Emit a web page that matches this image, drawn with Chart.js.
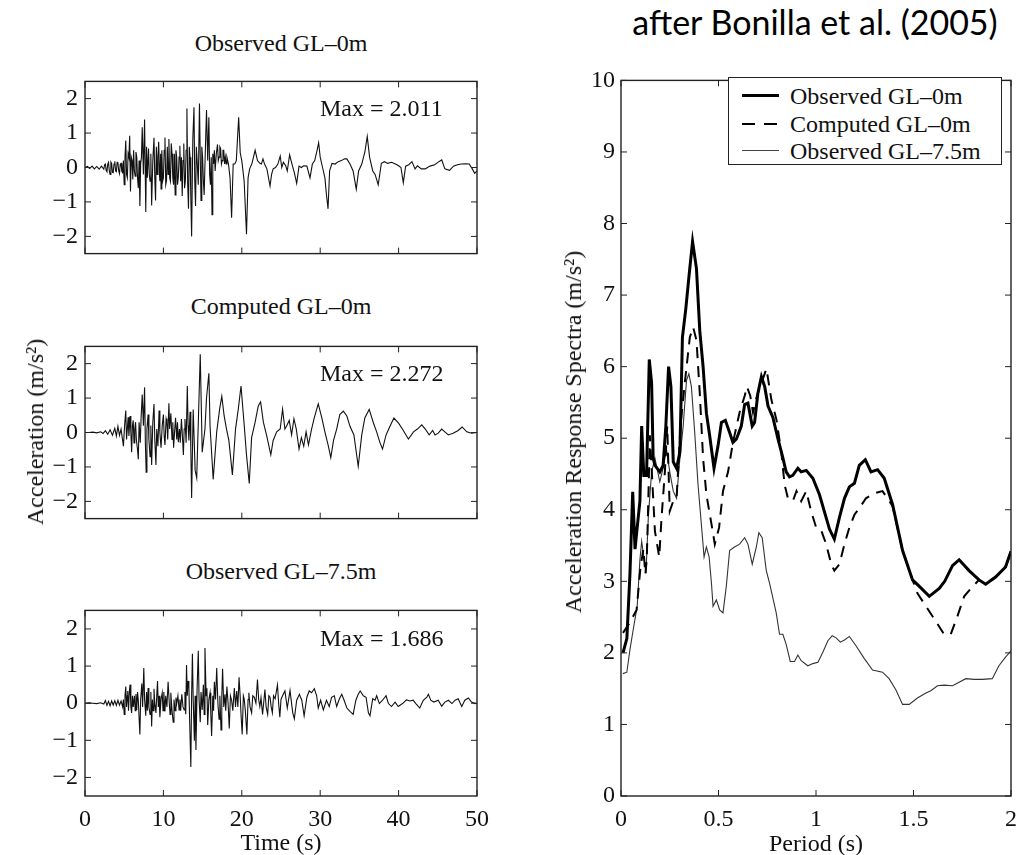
<!DOCTYPE html>
<html>
<head>
<meta charset="utf-8">
<script src="https://cdn.jsdelivr.net/npm/chart.js@4.4.1/dist/chart.umd.min.js"></script>
<style>
  body { margin: 0; background: #fff; width: 1026px; height: 855px; position: relative; overflow: hidden;
         font-family: 'Liberation Serif', serif; color: #111; }
  canvas { position: absolute; }
  .lbl { position: absolute; font-size: 24px; line-height: 1; white-space: nowrap; transform: translate(-50%, -50%); }
  .left { transform: translate(0, -50%); }
  .rot { transform: translate(-50%, -50%) rotate(-90deg); }
  .note { position: absolute; font-family: Lato, 'Open Sans', sans-serif; font-size: 34px; line-height: 1;
          white-space: nowrap; transform: translate(-50%, -50%); color: #000; }
  #legend { position: absolute; left: 728px; top: 77px; width: 272px; height: 86px; border: 1.3px solid #222;
            background: #fff; z-index: 5; }
  #legend .row { position: absolute; left: 0; height: 24px; width: 100%; }
  #legend .row span { position: absolute; left: 61px; top: 0; font-size: 24px; line-height: 24px; }
  #legend .smp { position: absolute; left: 13px; width: 37px; top: 11px; }
</style>
</head>
<body>
<canvas id="c1" width="500" height="215" style="left:0;top:60px"></canvas>
<canvas id="c2" width="500" height="215" style="left:0;top:325px"></canvas>
<canvas id="c3" width="500" height="265" style="left:0;top:589px"></canvas>
<canvas id="c4" width="486" height="794" style="left:540px;top:60px"></canvas>

<div class="lbl" style="left:281px;top:43px">Observed GL–0m</div>
<div class="lbl" style="left:281px;top:306px">Computed GL–0m</div>
<div class="lbl" style="left:281px;top:571px">Observed GL–7.5m</div>
<div class="lbl left" style="left:320px;top:108px">Max = 2.011</div>
<div class="lbl left" style="left:320px;top:373px">Max = 2.272</div>
<div class="lbl left" style="left:320px;top:638px">Max = 1.686</div>
<div class="lbl" style="left:281px;top:842px">Time (s)</div>
<div class="lbl rot" style="left:35px;top:432px">Acceleration (m/s²)</div>

<div class="note" style="left:815px;top:22px">after Bonilla et al. (2005)</div>
<div class="lbl" style="left:816px;top:843px">Period (s)</div>
<div class="lbl rot" style="left:573px;top:432px">Acceleration Response Spectra (m/s²)</div>

<div id="legend">
  <div class="row" style="top:6px"><div class="smp" style="border-top:3px solid #000;top:10px"></div><span>Observed GL–0m</span></div>
  <div class="row" style="top:34px"><div class="smp" style="height:2px;background:repeating-linear-gradient(90deg,#000 0 13px,transparent 13px 22px)"></div><span>Computed GL–0m</span></div>
  <div class="row" style="top:61px"><div class="smp" style="border-top:1px solid #444"></div><span>Observed GL–7.5m</span></div>
</div>

<script>
// --- time histories: [time (s), acceleration (m/s2)] --- //
const observedGL0 = [
  [0,0],[0.3,0.03],[0.6,-0.03],[0.9,0.04],[1.2,-0.04],[1.5,0.03],[1.8,-0.05],[2.1,0.04],[2.4,-0.05],[2.5,0.08],
  [2.6,0.1],[2.7,-0.08],[2.8,-0.12],[2.9,0.1],[3.0,0.15],[3.1,-0.1],[3.2,-0.2],[3.3,0.16],[3.4,0.12],[3.5,-0.14],
  [3.6,-0.15],[3.7,0.1],[3.8,0.18],[3.9,-0.1],[4.0,-0.12],[4.1,0.15],[4.2,0.14],[4.3,-0.1],[4.4,-0.18],[4.5,0.1],
  [4.6,0.12],[4.7,-0.12],[4.8,-0.15],[4.9,0.2],[5.0,-0.5],[5.1,0.3],[5.2,0.78],[5.3,-0.2],[5.4,-0.3],[5.5,0.4],
  [5.6,0.3],[5.7,0.92],[5.8,-0.7],[5.9,0.3],[6.0,0.2],[6.1,-0.35],[6.2,0.5],[6.3,-0.1],[6.4,-0.25],[6.5,0.45],
  [6.6,0.3],[6.7,-0.3],[6.8,-0.6],[6.9,0.2],[7.0,-1.12],[7.1,0.1],[7.2,0.3],[7.3,1.17],[7.45,-0.2],[7.6,1.39],
  [7.75,-1.29],[7.85,0.6],[7.95,-0.3],[8.1,0.55],[8.2,-0.2],[8.3,-0.4],[8.4,0.4],[8.5,-1.1],[8.65,0.2],[8.8,0.86],
  [8.9,-0.3],[9.0,-0.96],[9.1,0.6],[9.2,-0.2],[9.3,0.3],[9.4,0.75],[9.5,-0.2],[9.55,-0.4],[9.65,0.4],[9.7,-0.62],
  [9.8,0.5],[9.9,-0.4],[10.0,-0.3],[10.1,0.5],[10.2,0.87],[10.3,-0.5],[10.4,-0.38],[10.5,0.6],[10.6,-0.2],[10.7,0.83],
  [10.8,-0.3],[10.9,-0.4],[11.0,0.7],[11.1,0.4],[11.2,-0.3],[11.3,-0.5],[11.4,0.4],[11.5,-0.8],[11.6,0.5],[11.7,0.3],
  [11.8,-0.5],[11.9,-0.3],[12.0,0.3],[12.1,0.63],[12.2,-0.4],[12.3,0.3],[12.4,-0.83],[12.5,0.2],[12.6,0.7],[12.7,-0.6],
  [12.8,-0.4],[12.9,0.5],[13.0,1.71],[13.1,-0.5],[13.2,-1.2],[13.3,0.6],[13.4,0.3],[13.5,-0.9],[13.6,-2.0],[13.75,0.8],
  [13.9,1.75],[14.0,-0.4],[14.1,-1.12],[14.2,0.6],[14.3,0.2],[14.45,-0.5],[14.6,1.86],[14.7,0.3],[14.8,-0.96],[14.9,0.6],
  [15.0,0.3],[15.1,-0.4],[15.2,-0.8],[15.35,0.5],[15.5,1.67],[15.65,0.2],[15.8,1.46],[15.9,-0.2],[16.0,-0.5],[16.1,0.3],
  [16.2,-1.37],[16.3,0.4],[16.4,0.1],[16.5,0.5],[16.6,-0.1],[16.75,0.4],[16.9,0.67],[17.0,0.2],[17.1,0.3],[17.2,0.6],
  [17.3,0.55],[17.4,0.1],[17.5,0.2],[17.6,0.5],[17.7,0.5],[17.8,0.1],[17.9,0.3],[18.0,0.1],[18.1,0.3],[18.3,0.1],
  [18.5,-0.3],[18.7,-1.46],[18.9,0.1],[19.1,0.1],[19.3,0.2],[19.6,1.46],[19.8,0.42],[20.0,0.2],[20.3,-0.4],[20.6,-1.94],
  [20.8,-0.3],[21.0,-0.04],[21.3,0.12],[21.7,0.5],[22.0,0.2],[22.3,0.12],[22.5,0.1],[22.7,0.25],[22.9,0.1],[23.2,-0.04],
  [23.6,-0.54],[23.8,-0.2],[24.0,-0.04],[24.3,0.0],[24.6,0.1],[24.9,0.33],[25.1,0.0],[25.3,0.15],[25.6,0.05],[25.8,-0.1],
  [26.1,0.37],[26.4,0.1],[26.7,-0.15],[27.0,-0.46],[27.3,0.04],[27.6,0.0],[27.9,0.05],[28.3,0.04],[28.7,-0.3],[29.0,0.1],
  [29.3,0.2],[29.6,0.5],[29.8,0.72],[30.0,0.3],[30.3,0.0],[30.6,-0.3],[30.8,-0.8],[31.0,-1.2],[31.2,-0.1],[31.5,0.12],
  [31.9,0.1],[32.3,0.17],[32.7,0.2],[33.1,0.25],[33.4,0.25],[33.8,0.1],[34.2,-0.1],[34.6,-0.63],[34.9,-0.1],[35.3,0.1],
  [35.7,0.45],[36.0,0.9],[36.3,0.3],[36.7,-0.1],[37.0,-0.2],[37.4,-0.5],[37.8,0.12],[38.2,0.17],[38.6,0.12],[39.1,0.15],
  [39.6,0.1],[40.0,0.05],[40.3,0.0],[40.6,-0.44],[40.9,0.04],[41.3,0.08],[41.7,0.17],[42.1,-0.04],[42.4,0.05],[42.9,-0.04],
  [43.4,-0.04],[44.0,0.04],[44.6,0.08],[45.0,0.15],[45.5,0.22],[45.9,-0.04],[46.5,-0.08],[47.0,0.04],[47.5,0.08],[48.0,0.1],
  [48.5,0.11],[49.0,0.1],[49.4,-0.04],[49.7,-0.17],[50.0,-0.1]
];

const computedGL0 = [
  [0,0],[0.5,0],[1,0.01],[1.5,-0.01],[2.0,0.02],[2.3,-0.03],[2.6,0.05],[2.9,-0.05],[3.2,0.08],[3.5,-0.08],
  [3.8,0.12],[4.0,-0.1],[4.2,0.18],[4.4,-0.08],[4.6,0.1],[4.75,-0.15],[4.9,-0.4],[5.05,0.2],[5.2,0.64],[5.3,-0.2],
  [5.4,0.1],[5.5,0.44],[5.6,-0.1],[5.75,0.48],[5.85,0.0],[5.95,-0.57],[6.05,0.2],[6.15,0.35],[6.25,-0.3],[6.35,0.1],
  [6.45,0.3],[6.55,-0.2],[6.7,-0.5],[6.8,-0.78],[6.9,0.3],[7.05,-0.3],[7.15,0.4],[7.3,1.1],[7.45,0.2],[7.6,1.31],
  [7.7,-0.3],[7.8,-1.15],[7.9,0.1],[8.05,0.52],[8.15,-0.2],[8.3,-0.7],[8.4,0.2],[8.5,-0.94],[8.65,0.3],[8.8,0.83],
  [8.9,-0.2],[9.05,-0.94],[9.15,0.1],[9.3,-0.4],[9.45,0.64],[9.55,0.0],[9.7,-0.44],[9.85,0.2],[10.0,0.52],[10.1,-0.1],
  [10.2,-0.36],[10.35,0.4],[10.45,0.3],[10.55,-0.2],[10.7,0.85],[10.8,0.1],[10.95,0.56],[11.1,-0.2],[11.2,0.3],[11.3,-0.44],
  [11.45,0.1],[11.55,0.43],[11.7,-0.2],[11.8,0.3],[11.9,-0.28],[12.05,0.1],[12.15,-0.3],[12.3,0.39],[12.4,0.0],[12.55,-0.65],
  [12.65,0.1],[12.75,0.39],[12.9,-0.3],[13.05,1.35],[13.15,0.2],[13.25,-0.23],[13.4,0.6],[13.5,-0.5],[13.6,-1.9],[13.8,0.67],
  [14.05,-1.1],[14.25,-1.32],[14.7,2.27],[14.95,-0.57],[15.3,0.1],[15.5,1.0],[15.8,1.72],[15.95,0.18],[16.35,-1.36],[16.8,0.02],
  [17.2,0.72],[17.45,1.05],[17.75,0.48],[18.05,0.1],[18.35,-0.23],[18.8,-1.23],[19.2,0.1],[19.55,0.68],[19.9,1.35],[20.3,0.23],
  [20.6,-0.65],[20.95,-1.48],[21.25,-0.15],[21.7,0.3],[22.1,0.77],[22.4,0.89],[22.75,0.3],[23.15,-0.07],[23.7,-0.65],[24.0,-0.23],
  [24.45,0.02],[24.9,0.1],[25.2,0.68],[25.5,0.1],[25.7,0.18],[26.05,0.35],[26.35,-0.07],[26.65,0.4],[26.95,0.1],[27.3,-0.48],
  [27.6,-0.15],[27.9,-0.4],[28.2,0.02],[28.5,-0.36],[28.9,0.1],[29.25,0.43],[29.75,0.83],[30.2,0.43],[30.6,0.02],[31.05,-0.4],
  [31.35,-0.73],[31.7,-0.23],[32.1,0.1],[32.5,0.52],[32.95,0.62],[33.4,0.48],[33.8,0.18],[34.3,-0.07],[34.85,-0.98],[35.3,-0.07],
  [35.7,0.43],[36.25,0.67],[36.8,0.27],[37.2,0.02],[37.6,-0.28],[37.95,-0.48],[38.4,-0.07],[38.9,0.18],[39.4,0.42],[40.0,0.27],
  [40.6,0.06],[41.25,-0.19],[41.9,0.02],[42.4,0.1],[42.95,0.22],[43.4,0.1],[43.9,-0.07],[44.35,0.06],[44.65,-0.07],[45.05,-0.02],
  [45.5,0.1],[45.9,0.02],[46.35,-0.07],[46.95,-0.02],[47.6,0.06],[48.1,0.16],[48.7,0.02],[49.3,-0.02],[50.0,0.0]
];

const observedGL75 = [
  [0,0],[0.5,0.01],[1.0,0],[1.5,-0.01],[2.0,0.01],[2.4,-0.02],[2.6,0.07],[2.8,-0.06],[3.0,0.05],[3.2,-0.07],
  [3.4,0.06],[3.6,-0.05],[3.8,0.07],[4.0,-0.06],[4.2,0.08],[4.4,-0.05],[4.6,0.06],[4.8,-0.1],[4.9,0.1],[5.0,-0.3],
  [5.1,0.2],[5.2,0.45],[5.3,-0.1],[5.4,0.2],[5.45,0.33],[5.55,-0.2],[5.65,0.3],[5.75,0.5],[5.85,-0.1],[5.95,-0.26],
  [6.05,0.2],[6.15,-0.1],[6.3,0.2],[6.4,-0.2],[6.5,0.25],[6.6,-0.18],[6.7,0.3],[6.8,0.08],[6.9,-0.4],[7.0,-0.84],
  [7.1,0.1],[7.25,0.53],[7.35,-0.1],[7.5,0.95],[7.6,0.1],[7.75,-0.34],[7.85,0.3],[7.95,-0.2],[8.05,0.41],[8.15,-0.1],
  [8.3,-0.3],[8.4,0.3],[8.5,-0.63],[8.6,0.1],[8.7,-0.2],[8.8,0.39],[8.9,0.0],[9.05,-0.26],[9.15,0.2],[9.25,0.6],
  [9.35,-0.1],[9.45,0.2],[9.55,-0.38],[9.7,0.1],[9.85,0.28],[9.95,-0.2],[10.05,0.3],[10.2,-0.22],[10.3,0.2],[10.45,-0.1],
  [10.6,0.58],[10.75,0.0],[10.85,-0.3],[10.95,0.28],[11.1,-0.2],[11.25,-0.51],[11.35,0.1],[11.5,-0.2],[11.6,0.15],[11.7,-0.01],
  [11.85,0.2],[12.0,-0.18],[12.1,0.1],[12.2,-0.2],[12.35,0.24],[12.5,-0.1],[12.65,-0.18],[12.75,0.3],[12.85,-0.3],[12.95,1.03],
  [13.05,0.2],[13.15,0.6],[13.25,0.45],[13.35,-0.5],[13.5,-1.72],[13.6,0.2],[13.7,1.33],[13.8,0.1],[13.95,-1.01],[14.05,0.2],
  [14.15,-1.26],[14.3,0.4],[14.45,1.41],[14.55,0.1],[14.7,-0.51],[14.8,0.3],[14.95,-0.18],[15.1,0.5],[15.2,-0.3],[15.3,1.49],
  [15.45,0.2],[15.55,0.4],[15.65,-0.59],[15.8,0.1],[15.95,0.28],[16.05,-0.3],[16.15,-0.88],[16.3,0.2],[16.4,-0.2],[16.5,0.58],
  [16.65,0.1],[16.8,0.95],[16.95,0.0],[17.1,-0.43],[17.2,0.2],[17.35,-0.72],[17.45,0.2],[17.55,0.93],[17.7,-0.1],[17.85,0.24],
  [17.95,-0.2],[18.1,0.45],[18.25,0.0],[18.4,-0.68],[18.55,0.2],[18.7,0.08],[18.85,-0.2],[19.05,0.41],[19.2,-0.1],[19.35,0.33],
  [19.5,-0.1],[19.65,0.7],[19.8,0.16],[19.9,-0.3],[20.05,-0.84],[20.2,0.2],[20.3,0.12],[20.45,-0.2],[20.65,-0.84],[20.8,0.1],
  [20.9,0.28],[21.05,-0.1],[21.25,-0.26],[21.4,0.2],[21.6,0.16],[21.8,0.0],[22.0,0.64],[22.15,0.1],[22.3,-0.09],[22.45,0.15],
  [22.65,-0.3],[22.95,0.37],[23.1,-0.1],[23.3,-0.3],[23.45,0.2],[23.6,0.16],[23.75,-0.1],[23.9,-0.26],[24.05,0.2],[24.25,0.12],
  [24.55,0.49],[24.7,0.0],[24.85,-0.38],[25.0,0.1],[25.2,0.2],[25.5,0.33],[25.8,-0.13],[26.15,0.34],[26.5,-0.26],[26.7,-0.42],
  [27.0,0.08],[27.35,0.24],[27.65,0.08],[27.95,-0.34],[28.3,0.16],[28.6,0.33],[28.9,0.28],[29.25,0.39],[29.55,0.2],[29.75,-0.13],
  [30.05,0.08],[30.4,-0.18],[30.8,0.08],[31.15,-0.09],[31.45,0.16],[31.8,0.2],[32.1,-0.09],[32.45,0.12],[32.75,0.24],[33.05,0.08],
  [33.4,-0.13],[33.8,-0.22],[34.2,-0.3],[34.55,0.08],[34.85,0.24],[35.1,0.33],[35.5,0.2],[35.85,0.16],[36.15,-0.26],[36.35,-0.34],
  [36.7,0.12],[37.0,0.08],[37.2,0.2],[37.55,-0.01],[37.95,0.08],[38.4,0.2],[38.7,-0.01],[39.1,-0.09],[39.55,0.03],[39.95,-0.09],
  [40.5,-0.01],[41.0,0.09],[41.45,0.06],[41.85,0.08],[42.2,-0.01],[42.7,-0.13],[43.15,0.08],[43.6,0.16],[43.8,0.24],[44.1,0.08],
  [44.5,0.03],[45.05,0.08],[45.5,-0.08],[45.9,0.03],[46.35,0.08],[46.8,-0.01],[47.2,0.08],[47.6,0.12],[48.05,-0.09],[48.45,0.08],
  [48.9,0.14],[49.3,0.03],[49.75,-0.01],[50.0,0.0]
];

// --- response spectra: [period (s), Sa (m/s2)] --- //
const spectraObsGL0 = [
  [0.01,2.0],[0.03,2.2],[0.046,3.11],[0.06,4.25],[0.072,3.45],[0.083,3.75],[0.097,4.12],[0.106,5.17],[0.117,4.48],[0.131,4.48],
  [0.145,6.1],[0.157,5.77],[0.165,4.72],[0.174,4.62],[0.199,4.53],[0.216,4.62],[0.23,5.17],[0.244,6.0],[0.256,5.72],[0.268,4.67],
  [0.285,4.58],[0.302,4.8],[0.315,6.41],[0.332,6.8],[0.35,7.3],[0.367,7.75],[0.387,7.37],[0.404,6.5],[0.421,6.0],[0.438,5.35],
  [0.455,5.03],[0.477,4.58],[0.498,4.9],[0.515,5.22],[0.535,5.25],[0.557,5.08],[0.574,4.94],[0.592,4.99],[0.617,5.17],[0.634,5.47],
  [0.651,5.49],[0.673,5.17],[0.685,5.22],[0.702,5.63],[0.72,5.86],[0.737,5.72],[0.754,5.45],[0.779,5.29],[0.805,4.99],[0.827,4.76],
  [0.847,4.53],[0.864,4.46],[0.881,4.48],[0.907,4.58],[0.924,4.53],[0.95,4.55],[0.984,4.44],[1.018,4.21],[1.052,3.89],[1.069,3.73],
  [1.094,3.59],[1.12,3.89],[1.146,4.16],[1.171,4.32],[1.197,4.37],[1.222,4.62],[1.253,4.7],[1.282,4.53],[1.316,4.56],[1.35,4.44],
  [1.393,4.07],[1.444,3.43],[1.495,3.02],[1.53,2.93],[1.581,2.79],[1.632,2.9],[1.66,3.0],[1.7,3.22],[1.734,3.3],[1.785,3.15],
  [1.836,3.02],[1.87,2.96],[1.921,3.06],[1.972,3.2],[2.0,3.42]
];

const spectraCompGL0 = [
  [0.01,2.28],[0.04,2.4],[0.08,2.6],[0.1,3.2],[0.115,3.45],[0.125,3.1],[0.132,3.3],[0.14,4.12],[0.148,5.04],[0.158,4.53],
  [0.174,3.7],[0.196,3.34],[0.208,3.89],[0.225,4.53],[0.237,5.17],[0.25,3.98],[0.268,4.12],[0.285,4.16],[0.305,5.17],[0.327,5.77],
  [0.353,6.41],[0.37,6.55],[0.387,6.37],[0.404,5.63],[0.421,4.72],[0.438,4.21],[0.464,3.8],[0.481,3.52],[0.503,3.75],[0.523,4.26],
  [0.549,4.53],[0.574,4.94],[0.608,5.36],[0.634,5.59],[0.646,5.72],[0.663,5.59],[0.677,5.36],[0.697,5.59],[0.72,5.77],[0.746,5.97],
  [0.771,5.54],[0.797,5.26],[0.822,4.81],[0.839,4.35],[0.856,4.16],[0.881,4.12],[0.9,4.26],[0.924,4.12],[0.95,4.26],[0.975,3.98],
  [1.001,3.75],[1.027,3.71],[1.052,3.52],[1.078,3.24],[1.094,3.15],[1.12,3.24],[1.146,3.52],[1.171,3.75],[1.197,3.93],[1.222,4.02],
  [1.256,4.16],[1.299,4.23],[1.341,4.26],[1.367,4.16],[1.393,4.05],[1.444,3.43],[1.495,3.02],[1.521,2.83],[1.564,2.65],[1.615,2.44],
  [1.657,2.26],[1.691,2.26],[1.725,2.51],[1.76,2.79],[1.794,2.9],[1.836,3.02],[1.87,2.96],[1.921,3.06],[1.972,3.2],[2.0,3.42]
];

const spectraObsGL75 = [
  [0.01,1.71],[0.03,1.73],[0.046,2.05],[0.063,2.33],[0.083,2.65],[0.097,3.3],[0.106,3.56],[0.117,3.34],[0.128,3.11],[0.14,3.89],
  [0.157,4.53],[0.174,4.72],[0.199,4.39],[0.216,4.58],[0.233,4.85],[0.25,4.53],[0.268,4.26],[0.285,4.16],[0.302,4.72],[0.319,5.17],
  [0.336,5.81],[0.348,5.9],[0.361,5.72],[0.378,5.08],[0.395,4.35],[0.412,3.8],[0.426,3.34],[0.438,3.48],[0.452,3.34],[0.464,2.97],
  [0.472,2.65],[0.489,2.74],[0.506,2.6],[0.523,2.56],[0.54,2.93],[0.557,3.43],[0.582,3.48],[0.608,3.52],[0.634,3.61],[0.651,3.52],
  [0.673,3.24],[0.694,3.48],[0.707,3.68],[0.724,3.61],[0.745,3.15],[0.762,2.97],[0.796,2.56],[0.813,2.26],[0.83,2.26],[0.847,2.12],
  [0.868,1.88],[0.89,1.88],[0.907,1.97],[0.924,1.89],[0.958,1.82],[0.984,1.85],[1.01,1.87],[1.035,2.01],[1.061,2.17],[1.083,2.24],
  [1.103,2.21],[1.125,2.15],[1.146,2.18],[1.171,2.23],[1.205,2.1],[1.248,1.92],[1.29,1.76],[1.341,1.73],[1.375,1.64],[1.41,1.48],
  [1.444,1.28],[1.478,1.28],[1.52,1.37],[1.564,1.44],[1.589,1.47],[1.623,1.54],[1.657,1.55],[1.7,1.54],[1.734,1.59],[1.768,1.64],
  [1.811,1.63],[1.853,1.63],[1.904,1.64],[1.938,1.82],[1.972,1.94],[2.0,2.03]
];

// --- axis ticks --- //
const timeTicks = [0, 10, 20, 30, 40, 50];
const accTicks = [-2, -1, 0, 1, 2];
const periodTicks = [0, 0.5, 1, 1.5, 2];
const saTicks = [0, 1, 2, 3, 4, 5, 6, 7, 8, 9, 10];

Chart.defaults.font.family = "'Liberation Serif', serif";
Chart.defaults.font.size = 24;
Chart.defaults.color = '#111';
Chart.defaults.animation = false;

const toXY = (pairs) => pairs.map(p => ({ x: p[0], y: p[1] }));
const fmt = (v) => v < 0 ? '\u2212' + Math.abs(v) : String(v);

// matlab style box with inward ticks on all sides
const frameTicks = {
  id: 'frameTicks',
  afterDraw(chart) {
    const { ctx, chartArea: a, scales } = chart;
    const len = 6;
    ctx.save();
    ctx.strokeStyle = '#222';
    ctx.lineWidth = 1.4;
    ctx.strokeRect(a.left, a.top, a.right - a.left, a.bottom - a.top);
    ctx.lineWidth = 1;
    ctx.beginPath();
    for (const t of scales.x.ticks) {
      const px = scales.x.getPixelForValue(t.value);
      ctx.moveTo(px, a.bottom); ctx.lineTo(px, a.bottom - len);
      ctx.moveTo(px, a.top); ctx.lineTo(px, a.top + len);
    }
    for (const t of scales.y.ticks) {
      const py = scales.y.getPixelForValue(t.value);
      ctx.moveTo(a.left, py); ctx.lineTo(a.left + len, py);
      ctx.moveTo(a.right, py); ctx.lineTo(a.right - len, py);
    }
    ctx.stroke();
    ctx.restore();
  }
};

function timePanel(id, series, showTimeLabels) {
  new Chart(document.getElementById(id), {
    type: 'line',
    data: {
      datasets: [{
        data: toXY(series),
        borderColor: '#111',
        borderWidth: 1.1,
        pointRadius: 0,
        tension: 0
      }]
    },
    options: {
      responsive: false,
      layout: { padding: { top: 7, right: 23, left: 0, bottom: 0 } },
      plugins: { legend: { display: false }, tooltip: { enabled: false } },
      scales: {
        x: {
          type: 'linear', min: 0, max: 50,
          grid: { display: false, drawTicks: false }, border: { display: false },
          afterBuildTicks: s => { s.ticks = timeTicks.map(v => ({ value: v })); },
          afterFit: s => { s.height = showTimeLabels ? 58 : 8; },
          ticks: { display: showTimeLabels, padding: 9, maxRotation: 0, callback: fmt }
        },
        y: {
          type: 'linear', min: -2.5, max: 2.5,
          grid: { display: false, drawTicks: false }, border: { display: false },
          afterBuildTicks: s => { s.ticks = accTicks.map(v => ({ value: v })); },
          afterFit: s => { s.width = 85; },
          ticks: { padding: 7, callback: fmt }
        }
      }
    },
    plugins: [frameTicks]
  });
}

timePanel('c1', observedGL0, false);
timePanel('c2', computedGL0, false);
timePanel('c3', observedGL75, true);

new Chart(document.getElementById('c4'), {
  type: 'line',
  data: {
    datasets: [
      { label: 'Observed GL–0m', data: toXY(spectraObsGL0), borderColor: '#000', borderWidth: 3, pointRadius: 0, tension: 0 },
      { label: 'Computed GL–0m', data: toXY(spectraCompGL0), borderColor: '#000', borderWidth: 2, borderDash: [11, 8], pointRadius: 0, tension: 0 },
      { label: 'Observed GL–7.5m', data: toXY(spectraObsGL75), borderColor: '#333', borderWidth: 1.1, pointRadius: 0, tension: 0 }
    ]
  },
  options: {
    responsive: false,
    layout: { padding: { top: 9, right: 14, left: 0, bottom: 0 } },
    plugins: { legend: { display: false }, tooltip: { enabled: false } },
    scales: {
      x: {
        type: 'linear', min: 0, max: 2,
        grid: { display: false, drawTicks: false }, border: { display: false },
        afterBuildTicks: s => { s.ticks = periodTicks.map(v => ({ value: v })); },
        afterFit: s => { s.height = 58; },
        ticks: { padding: 9, maxRotation: 0, callback: fmt }
      },
      y: {
        type: 'linear', min: 0, max: 10,
        grid: { display: false, drawTicks: false }, border: { display: false },
        afterBuildTicks: s => { s.ticks = saTicks.map(v => ({ value: v })); },
        afterFit: s => { s.width = 81; },
        ticks: { padding: 6, callback: fmt }
      }
    }
  },
  plugins: [frameTicks]
});
</script>
</body>
</html>
